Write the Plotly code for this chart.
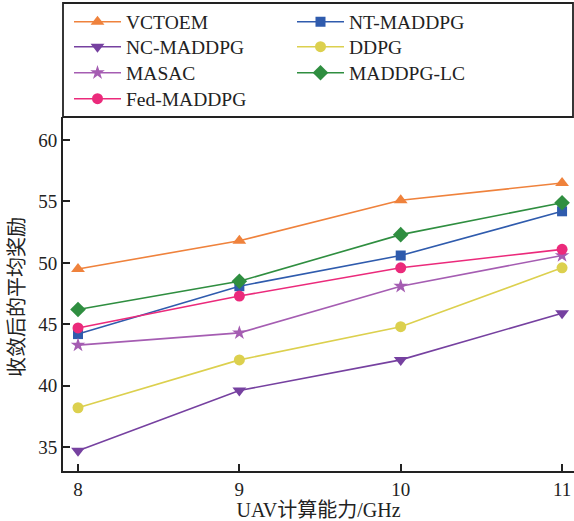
import plotly.graph_objects as go

x_vals = [8, 9, 10, 11]
series_names = ["VCTOEM", "NT-MADDPG", "NC-MADDPG", "DDPG", "MASAC", "MADDPG-LC", "Fed-MADDPG"]
vctoem = [49.5, 51.8, 55.1, 56.5]
nt_maddpg = [44.2, 48.1, 50.6, 54.2]
nc_maddpg = [34.7, 39.6, 42.1, 45.9]
ddpg = [38.2, 42.1, 44.8, 49.6]
masac = [43.3, 44.3, 48.1, 50.6]
maddpg_lc = [46.2, 48.5, 52.3, 54.9]
fed_maddpg = [44.7, 47.3, 49.6, 51.1]
y_ticks = [35, 40, 45, 50, 55, 60]
x_ticks = [8, 9, 10, 11]

values = [vctoem, nt_maddpg, nc_maddpg, ddpg, masac, maddpg_lc, fed_maddpg]
colors = ["#EF823C", "#2F5BAD", "#7641A0", "#DCD04E", "#A55DB2", "#2F8E40", "#EB2A7B"]
symbols = ["triangle-up", "square", "triangle-down", "circle", "star", "diamond", "circle"]
sizes = [12, 10, 12, 11, 11, 12, 11]

SERIF = "Liberation Serif, Times New Roman, Noto Sans CJK SC, serif"
W, H = 574, 521

fig = go.Figure()
legend_layout = {}
for i, (name, ys, c, s, sz) in enumerate(zip(series_names, values, colors, symbols, sizes)):
    key = "legend" if i == 0 else f"legend{i + 1}"
    fig.add_trace(go.Scatter(
        x=x_vals, y=ys, name=name, mode="lines+markers",
        line=dict(color=c, width=1.6),
        marker=dict(symbol=s, size=sz, color=c, line=dict(width=0)),
        legend=key, cliponaxis=False,
    ))
    row, col = divmod(i, 2)
    row_y = [22, 47, 73, 99][row]
    col_x = [69, 292][col]
    legend_layout[key] = dict(
        xref="container", yref="container", xanchor="left", yanchor="middle",
        x=col_x / W, y=1 - row_y / H,
        orientation="v", bgcolor="rgba(0,0,0,0)", borderwidth=0,
        font=dict(family=SERIF, size=19.5, color="#222"),
        itemwidth=47,
    )

fig.update_layout(
    width=W, height=H,
    margin=dict(l=63, r=0, t=117, b=50, autoexpand=False),
    plot_bgcolor="white", paper_bgcolor="white",
    font=dict(family=SERIF, size=19, color="#222"),
    showlegend=True,
    xaxis=dict(
        range=[7.907, 11.074], tickvals=x_ticks, ticktext=[str(t) for t in x_ticks],
        ticks="inside", ticklen=7, tickwidth=1.5, tickcolor="#222",
        showline=True, linewidth=1.8, linecolor="#222", mirror=False,
        showgrid=False, zeroline=False,
        tickfont=dict(family=SERIF, size=19, color="#222"),
        title=dict(text="UAV计算能力/GHz", font=dict(family=SERIF, size=20, color="#222"), standoff=4),
    ),
    yaxis=dict(
        range=[33.05, 61.88], tickvals=y_ticks, ticktext=[str(t) for t in y_ticks],
        ticks="inside", ticklen=7, tickwidth=1.5, tickcolor="#222",
        showline=True, linewidth=1.8, linecolor="#222", mirror=False,
        showgrid=False, zeroline=False,
        tickfont=dict(family=SERIF, size=19, color="#222"),
    ),
    **legend_layout,
)

fig.add_annotation(text="收敛后的平均奖励", xref="paper", yref="paper",
                   x=(17 - 63) / 511, y=(471 - 297) / 354, textangle=-90,
                   showarrow=False, xanchor="center", yanchor="middle",
                   font=dict(family=SERIF, size=20, color="#222"))

# legend frame box
fig.add_shape(type="rect", xref="paper", yref="paper",
              x0=0, x1=(573 - 63) / 511, y0=1.0, y1=(471 - 3) / 354,
              line=dict(color="#222", width=1.8), fillcolor="rgba(0,0,0,0)", layer="above")

fig.write_html("out.html")
